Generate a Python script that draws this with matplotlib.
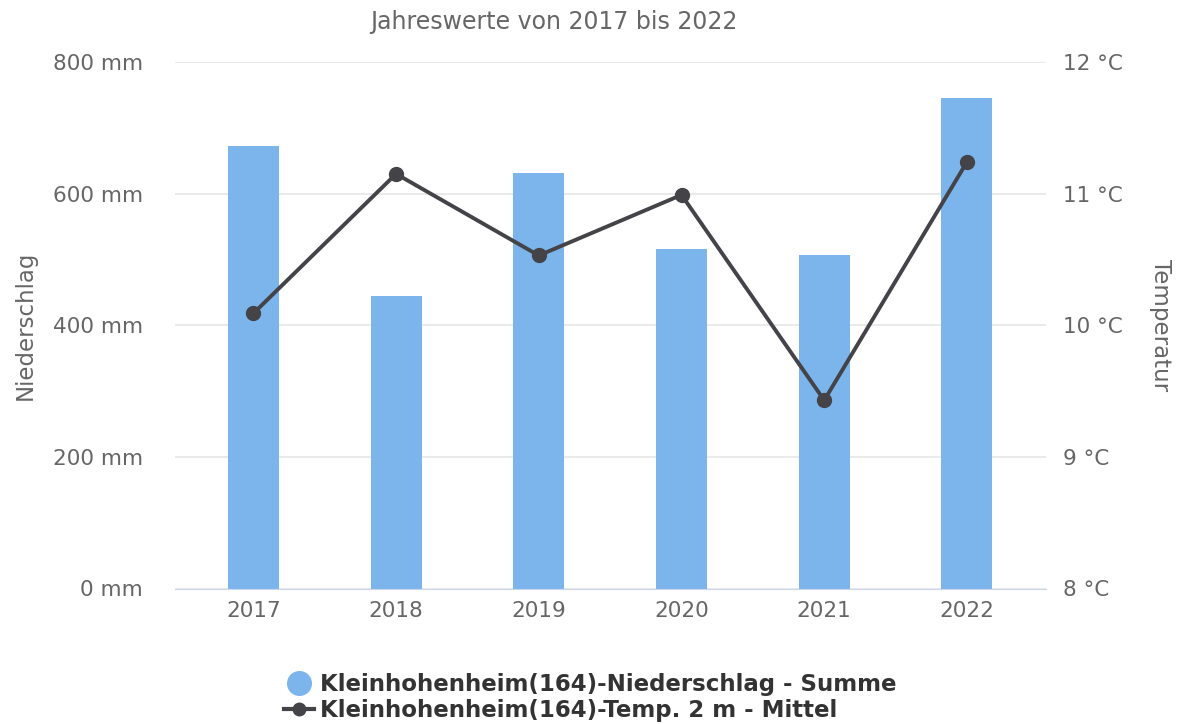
import matplotlib
matplotlib.use("Agg")
import matplotlib.pyplot as plt
from matplotlib.lines import Line2D

years = ["2017", "2018", "2019", "2020", "2021", "2022"]
niederschlag = [672, 445, 631, 516, 506, 746]
temperatur = [10.09, 11.15, 10.53, 10.99, 9.43, 11.24]
left_ticks = [0, 200, 400, 600, 800]
right_ticks = [8, 9, 10, 11, 12]

bar_color = "#7cb5ec"
line_color = "#434348"
text_color = "#666666"

plt.rcParams['font.family'] = ['DejaVu Sans']

fig = plt.figure(figsize=(11.82, 7.24), dpi=100)
ax = fig.add_axes([175/1182, 1-588.5/724, (1046-175)/1182, (588.5-62)/724])
x = list(range(len(years)))
ax.bar(x, niederschlag, width=0.357, color=bar_color, zorder=2)
ax.set_xlim(-0.549, 5.554)
ax.set_ylim(0, 800)
ax.set_yticks(left_ticks)
ax.set_yticklabels([f"{v} mm" for v in left_ticks])
ax.set_xticks(x)
ax.set_xticklabels(years)
ax.grid(axis="y", color="#e6e6e6", linewidth=1.2, zorder=0)
for s in ["top", "right", "left"]:
    ax.spines[s].set_visible(False)
ax.spines["bottom"].set_color("#ccd6eb")
ax.tick_params(axis="y", length=0, pad=23, labelsize=15.5, labelcolor=text_color)
ax.tick_params(axis="x", length=0, pad=9, labelsize=15.5, labelcolor=text_color)
ax.set_ylabel("Niederschlag", fontsize=16.5, color=text_color, va="center")
ax.yaxis.set_label_coords(-0.172, 0.5)

ax2 = ax.twinx()
ax2.plot(x, temperatur, color=line_color, linewidth=2.8, marker="o", markersize=10, zorder=3)
ax2.set_ylim(8, 12)
ax2.set_yticks(right_ticks)
ax2.set_yticklabels([f"{v} °C" for v in right_ticks])
for s in ["top", "right", "left", "bottom"]:
    ax2.spines[s].set_visible(False)
ax2.tick_params(axis="y", length=0, pad=12, labelsize=15.5, labelcolor=text_color)
ax2.set_ylabel("Temperatur", fontsize=16.5, color=text_color, rotation=270, va="center")
ax2.yaxis.set_label_coords(1.131, 0.5)

fig.text(554/1182, 1-22/724, "Jahreswerte von 2017 bis 2022", ha="center", va="center",
         fontsize=17, color=text_color)

handles = [
    Line2D([], [], linestyle="none", marker="o", markersize=17, color=bar_color),
    Line2D([], [], color=line_color, linewidth=3, marker="o", markersize=9),
]
labels = ["Kleinhohenheim(164)-Niederschlag - Summe", "Kleinhohenheim(164)-Temp. 2 m - Mittel"]
leg = fig.legend(handles, labels, loc="upper left", bbox_to_anchor=(273/1182, 1-662/724),
                 frameon=False, prop={"weight": "bold", "size": 16.5}, labelcolor="#333333",
                 handlelength=1.3, handletextpad=0.25, labelspacing=0.1, borderpad=0)

fig.savefig("out.png", dpi=100)
